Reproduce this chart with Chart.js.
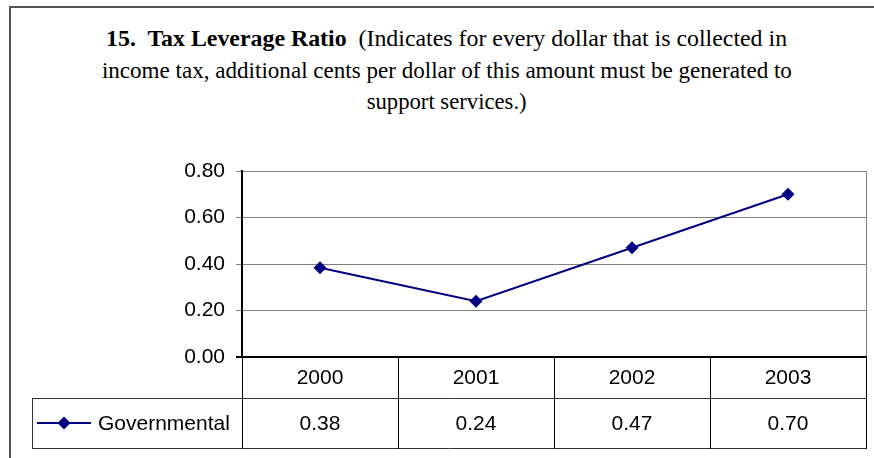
<!DOCTYPE html>
<html>
<head>
<meta charset="utf-8">
<script src="https://cdn.jsdelivr.net/npm/chart.js@4.4.1/dist/chart.umd.min.js"></script>
<style>
  html, body { margin: 0; padding: 0; background: #fff; }
  #wrap { position: relative; width: 874px; height: 458px; overflow: hidden; }
  #frame { position: absolute; left: 9px; top: 6px; width: 900px; height: 500px; border: 2px solid #555; box-sizing: border-box; }
  #titulo { position: absolute; left: 0; top: 23px; width: 894px; font-family: "Liberation Serif", "Times New Roman", serif; font-size: 24px; line-height: 31.5px; color: #000; }
  #titulo div { text-align: center; white-space: nowrap; }
  #titulo span.l { display: inline-block; transform-origin: center; }
  canvas { position: absolute; left: 0; top: 0; }
</style>
</head>
<body>
<div id="wrap">
  <div id="frame"></div>
  <div id="titulo">
    <div><span class="l" data-w="681"><b>15.&nbsp; Tax Leverage Ratio</b>&nbsp; (Indicates for every dollar that is collected in</span></div>
    <div><span class="l" data-w="690">income tax, additional cents per dollar of this amount must be generated to</span></div>
    <div><span class="l" data-w="160">support services.)</span></div>
  </div>
  <canvas id="grafica" width="874" height="458"></canvas>
</div>
<script>
// Datos
const anios = ["2000", "2001", "2002", "2003"];
const gubernamental = [0.384, 0.24, 0.47, 0.70];
const nombreSerie = "Governmental";
const ticksY = [0, 0.2, 0.4, 0.6, 0.8];

const fuente = '"Liberation Sans", Arial, sans-serif';
const azul = "#000080";

// Ajustar el ancho de cada linea del titulo (texto comprimido)
document.querySelectorAll("#titulo span.l").forEach((s) => {
  const w = s.getBoundingClientRect().width;
  const k = parseFloat(s.dataset.w) / w;
  s.style.transform = `scaleX(${k})`;
});

function diamante(ctx, x, y, r) {
  ctx.beginPath();
  ctx.moveTo(x, y - r);
  ctx.lineTo(x + r, y);
  ctx.lineTo(x, y + r);
  ctx.lineTo(x - r, y);
  ctx.closePath();
  ctx.fillStyle = azul;
  ctx.fill();
}

// Tabla de datos debajo de la grafica
const tablaPlugin = {
  id: "tabla",
  afterDraw(chart) {
    const ctx = chart.ctx;
    const area = chart.chartArea;
    const x = chart.scales.x;
    const fila1 = area.bottom + 41;
    const fila2 = area.bottom + 91;
    const ancho = (area.right - area.left) / anios.length;

    ctx.save();
    // borde derecho del area
    ctx.strokeStyle = "#808080";
    ctx.lineWidth = 1;
    ctx.beginPath();
    ctx.moveTo(area.right + 0.5, area.top);
    ctx.lineTo(area.right + 0.5, area.bottom);
    ctx.stroke();

    // lineas horizontales
    ctx.strokeStyle = "#333";
    ctx.beginPath();
    ctx.moveTo(32, fila1 + 0.5);
    ctx.lineTo(area.right + 1, fila1 + 0.5);
    ctx.moveTo(32, fila2 + 0.5);
    ctx.lineTo(area.right + 1, fila2 + 0.5);
    ctx.moveTo(32.5, fila1);
    ctx.lineTo(32.5, fila2 + 1);
    ctx.stroke();

    // lineas verticales
    ctx.strokeStyle = "#000";
    ctx.beginPath();
    for (let i = 0; i <= anios.length; i++) {
      const px = Math.round(area.left + i * ancho) + 0.5;
      ctx.moveTo(px, area.bottom);
      ctx.lineTo(px, fila2 + 1);
    }
    ctx.stroke();

    // eje x
    ctx.lineWidth = 2;
    ctx.beginPath();
    ctx.moveTo(area.left - 6, area.bottom);
    ctx.lineTo(area.right + 1, area.bottom);
    ctx.stroke();

    // textos
    ctx.fillStyle = "#000";
    ctx.font = "21px " + fuente;
    ctx.textAlign = "center";
    ctx.textBaseline = "middle";
    anios.forEach((a, i) => {
      const cx = x.getPixelForValue(i);
      ctx.fillText(a, cx, (area.bottom + fila1) / 2 + 1);
      ctx.fillText(gubernamental[i].toFixed(2), cx, (fila1 + fila2) / 2 + 1);
    });

    // leyenda
    const ly = (fila1 + fila2) / 2;
    ctx.strokeStyle = azul;
    ctx.lineWidth = 2;
    ctx.beginPath();
    ctx.moveTo(37, ly);
    ctx.lineTo(91, ly);
    ctx.stroke();
    diamante(ctx, 64, ly, 6.5);
    ctx.fillStyle = "#000";
    ctx.textAlign = "left";
    ctx.fillText(nombreSerie, 98, ly + 1);
    ctx.restore();
  },
};

new Chart(document.getElementById("grafica"), {
  type: "line",
  data: {
    labels: anios,
    datasets: [
      {
        label: nombreSerie,
        data: gubernamental,
        borderColor: azul,
        backgroundColor: azul,
        borderWidth: 2,
        pointStyle: "rectRot",
        pointRadius: 6.5,
        pointBorderWidth: 0,
        fill: false,
        tension: 0,
      },
    ],
  },
  options: {
    responsive: false,
    animation: false,
    devicePixelRatio: 1,
    layout: { padding: { top: 171, right: 8, bottom: 101, left: 0 } },
    plugins: { legend: { display: false }, title: { display: false }, tooltip: { enabled: false } },
    scales: {
      x: { display: false, offset: true },
      y: {
        min: 0,
        max: 0.8,
        afterFit(scale) { scale.width = 242; },
        afterBuildTicks(scale) { scale.ticks = ticksY.map((v) => ({ value: v })); },
        ticks: {
          padding: 11,
          color: "#000",
          font: { family: fuente, size: 21 },
          callback: (v) => Number(v).toFixed(2),
        },
        grid: { color: "#808080", lineWidth: 1, tickLength: 6, tickColor: "#808080" },
        border: { color: "#000", width: 2 },
      },
    },
  },
  plugins: [tablaPlugin],
});
</script>
</body>
</html>
